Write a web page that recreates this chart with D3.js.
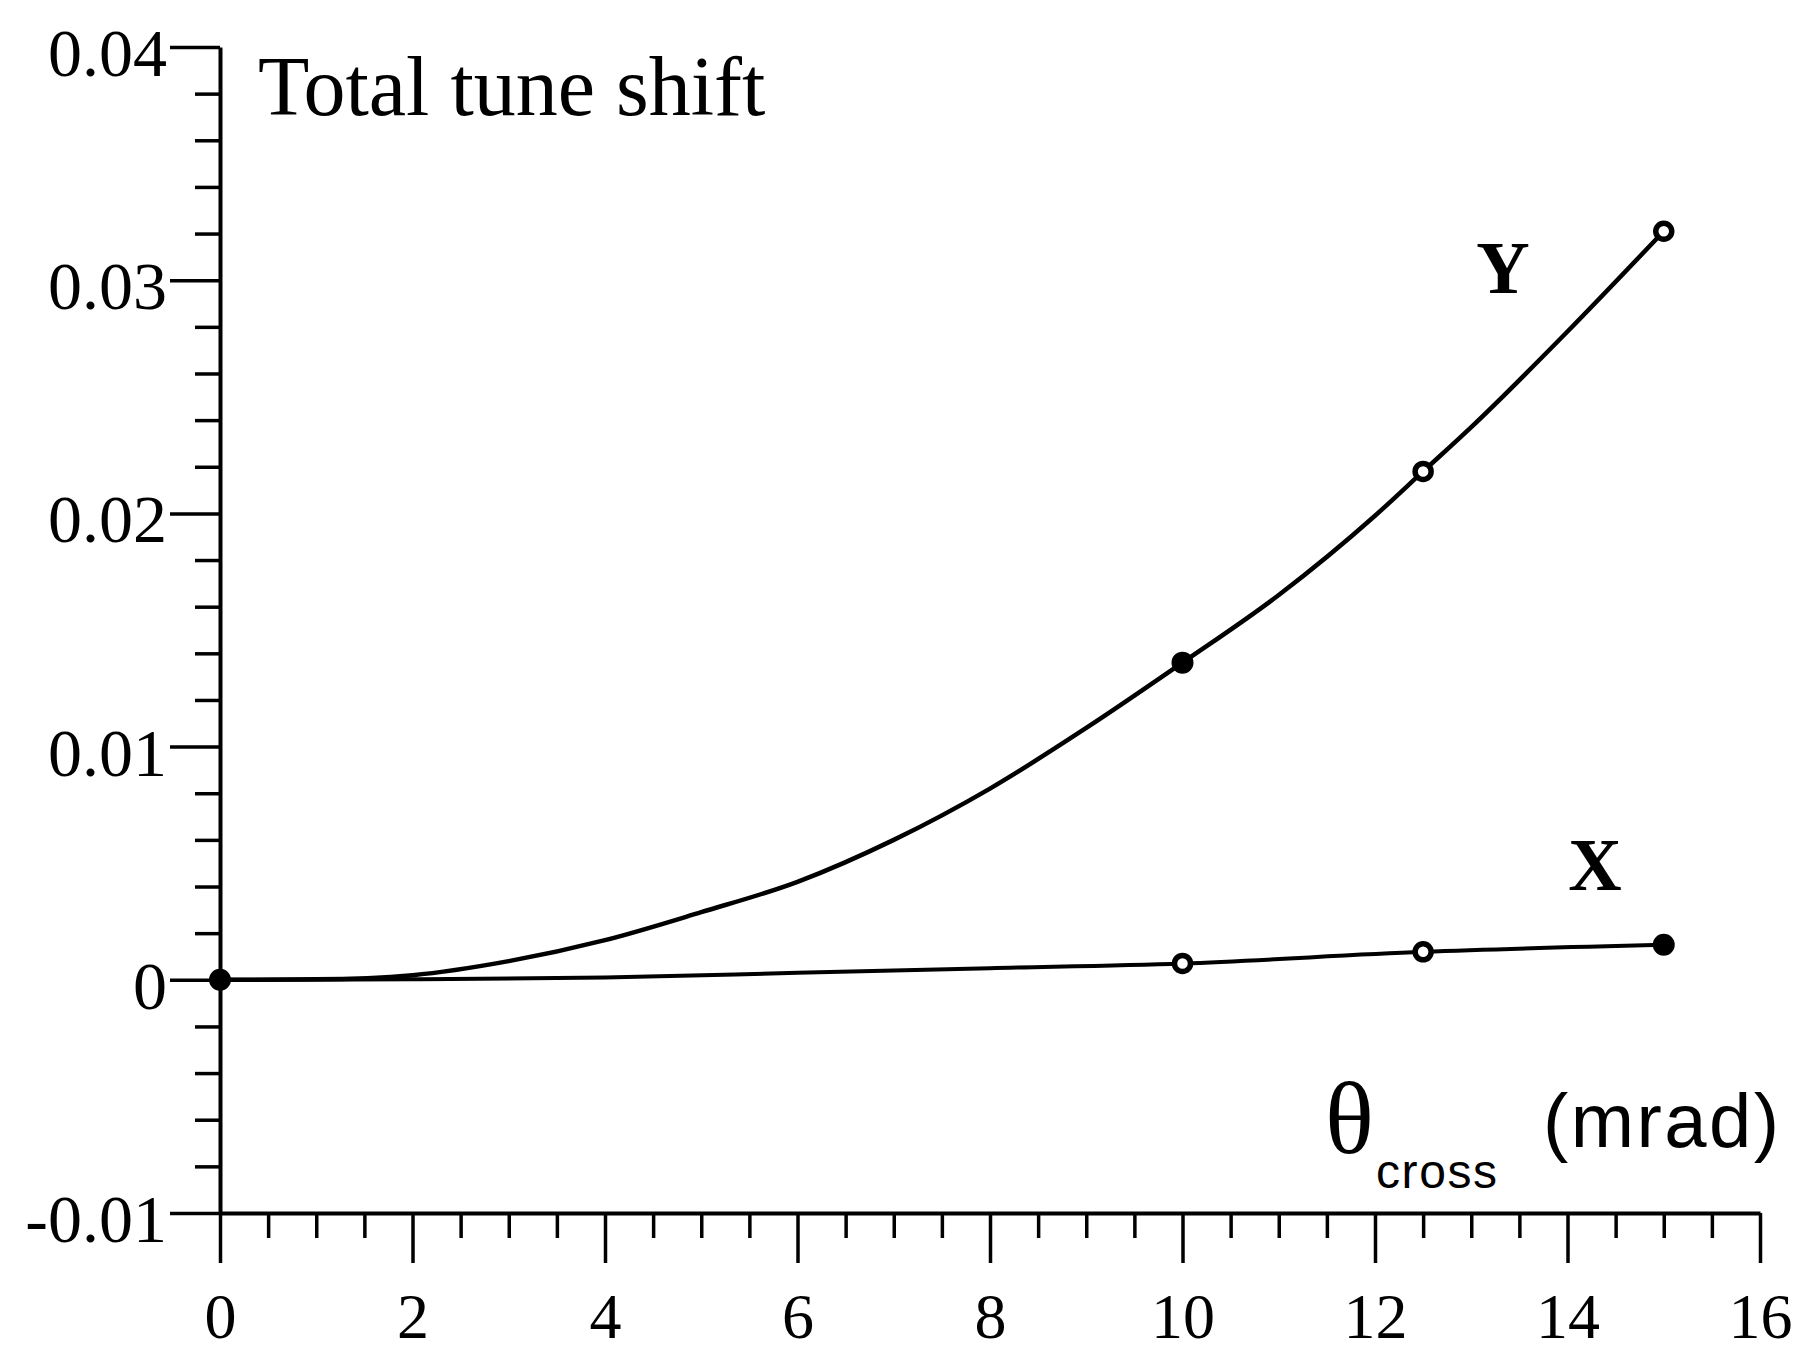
<!DOCTYPE html>
<html>
<head>
<meta charset="utf-8">
<script src="https://cdn.jsdelivr.net/npm/d3@7"></script>
<style>
  html, body { margin: 0; padding: 0; background: #fff; }
  svg { display: block; }
</style>
</head>
<body>
<svg id="chart" width="1798" height="1357"></svg>
<script>
// ---------- data ----------
const xMajorTicks = [0, 2, 4, 6, 8, 10, 12, 14, 16];
const xTickLabels = ["0", "2", "4", "6", "8", "10", "12", "14", "16"];
const yMajorTicks = [-0.01, 0, 0.01, 0.02, 0.03, 0.04];
const yTickLabels = ["-0.01", "0", "0.01", "0.02", "0.03", "0.04"];

// Y tune shift curve (sampled along the drawn line)
const yCurveTheta = [0, 1, 2, 3, 4, 5, 6, 7, 8, 9, 10, 11, 12, 12.5, 13, 14, 15];
const yCurveShift = [0, 0.00002, 0.0002, 0.0008, 0.0017, 0.0029, 0.0042, 0.0060, 0.0082, 0.0108, 0.0136, 0.0165, 0.0199, 0.0218, 0.0237, 0.0278, 0.0321];
// X tune shift curve
const xCurveTheta = [0, 2, 4, 6, 8, 10, 12.5, 15];
const xCurveShift = [0, 0.00002, 0.0001, 0.0003, 0.0005, 0.0007, 0.0012, 0.0015];

// plotted markers
const yMarkTheta = [0, 10, 12.5, 15];
const yMarkShift = [0, 0.0136, 0.0218, 0.0321];
const yMarkKind  = ["filled", "filled", "open", "open"];
const xMarkTheta = [10, 12.5, 15];
const xMarkShift = [0.0007, 0.0012, 0.0015];
const xMarkKind  = ["open", "open", "filled"];

// ---------- drawing ----------
const svg = d3.select("#chart");
const serif = "'Liberation Serif', 'Times New Roman', serif";
const sans = "'Liberation Sans', Arial, sans-serif";

const x = d3.scaleLinear().domain([0, 16]).range([220, 1760]);
const y = d3.scaleLinear().domain([-0.01, 0.04]).range([1213, 47]);

const xMinor = d3.range(0, 16.01, 0.5).filter(v => Math.abs(v / 2 - Math.round(v / 2)) > 1e-9);
const yMinor = d3.range(-0.01, 0.04001, 0.002).filter(v => Math.abs(v / 0.01 - Math.round(v / 0.01)) > 1e-6);

// X axis
const gx = svg.append("g").attr("transform", `translate(0,${y(-0.01)})`);
gx.call(d3.axisBottom(x).tickValues(xMajorTicks).tickSize(50).tickSizeOuter(0)
  .tickPadding(30).tickFormat((d, i) => xTickLabels[i]));
const gxm = svg.append("g").attr("transform", `translate(0,${y(-0.01)})`);
gxm.call(d3.axisBottom(x).tickValues(xMinor).tickSize(25).tickSizeOuter(0).tickFormat(""));
gxm.select(".domain").remove();

// Y axis
const gy = svg.append("g").attr("transform", `translate(${x(0)},0)`);
gy.call(d3.axisLeft(y).tickValues(yMajorTicks).tickSize(50).tickSizeOuter(0)
  .tickPadding(3).tickFormat((d, i) => yTickLabels[i]));
const gym = svg.append("g").attr("transform", `translate(${x(0)},0)`);
gym.call(d3.axisLeft(y).tickValues(yMinor).tickSize(25).tickSizeOuter(0).tickFormat(""));
gym.select(".domain").remove();

svg.selectAll(".domain").attr("stroke", "#000").attr("stroke-width", 4);
svg.selectAll(".tick line").attr("stroke", "#000").attr("stroke-width", 3.5);
gx.selectAll(".tick text").attr("font-family", serif).attr("font-size", 64).attr("fill", "#000");
gy.selectAll(".tick text").attr("font-family", serif).attr("font-size", 68).attr("fill", "#000")
  .attr("dy", "0.42em");

// curves
const line = d3.line().x(d => x(d[0])).y(d => y(d[1])).curve(d3.curveMonotoneX);
svg.append("path")
  .datum(yCurveTheta.map((t, i) => [t, yCurveShift[i]]))
  .attr("d", line).attr("fill", "none").attr("stroke", "#000").attr("stroke-width", 4.5);
svg.append("path")
  .datum(xCurveTheta.map((t, i) => [t, xCurveShift[i]]))
  .attr("d", line).attr("fill", "none").attr("stroke", "#000").attr("stroke-width", 4);

// markers
function drawMarkers(thetas, shifts, kinds) {
  svg.append("g").selectAll("circle")
    .data(thetas.map((t, i) => ({ t, v: shifts[i], k: kinds[i] })))
    .join("circle")
    .attr("cx", d => x(d.t)).attr("cy", d => y(d.v))
    .attr("r", d => d.k === "filled" ? 10 : 8)
    .attr("fill", d => d.k === "filled" ? "#000" : "#fff")
    .attr("stroke", "#000")
    .attr("stroke-width", d => d.k === "filled" ? 2 : 5.5);
}
drawMarkers(yMarkTheta, yMarkShift, yMarkKind);
drawMarkers(xMarkTheta, xMarkShift, xMarkKind);

// texts
svg.append("text").attr("x", 258).attr("y", 115)
  .attr("font-family", serif).attr("font-size", 84).text("Total tune shift");
svg.append("text").attr("x", 1503).attr("y", 293).attr("text-anchor", "middle")
  .attr("font-family", serif).attr("font-weight", "bold").attr("font-size", 74).text("Y");
svg.append("text").attr("x", 1595).attr("y", 890).attr("text-anchor", "middle")
  .attr("font-family", serif).attr("font-weight", "bold").attr("font-size", 74).text("X");
svg.append("text").attr("x", 1325).attr("y", 1153)
  .attr("font-family", serif).attr("font-size", 102).text("θ");
svg.append("text").attr("x", 1376).attr("y", 1188)
  .attr("font-family", sans).attr("font-size", 48).attr("textLength", 121).text("cross");
svg.append("text").attr("x", 1543).attr("y", 1147)
  .attr("font-family", sans).attr("font-size", 76).attr("textLength", 236).text("(mrad)");
</script>
</body>
</html>
